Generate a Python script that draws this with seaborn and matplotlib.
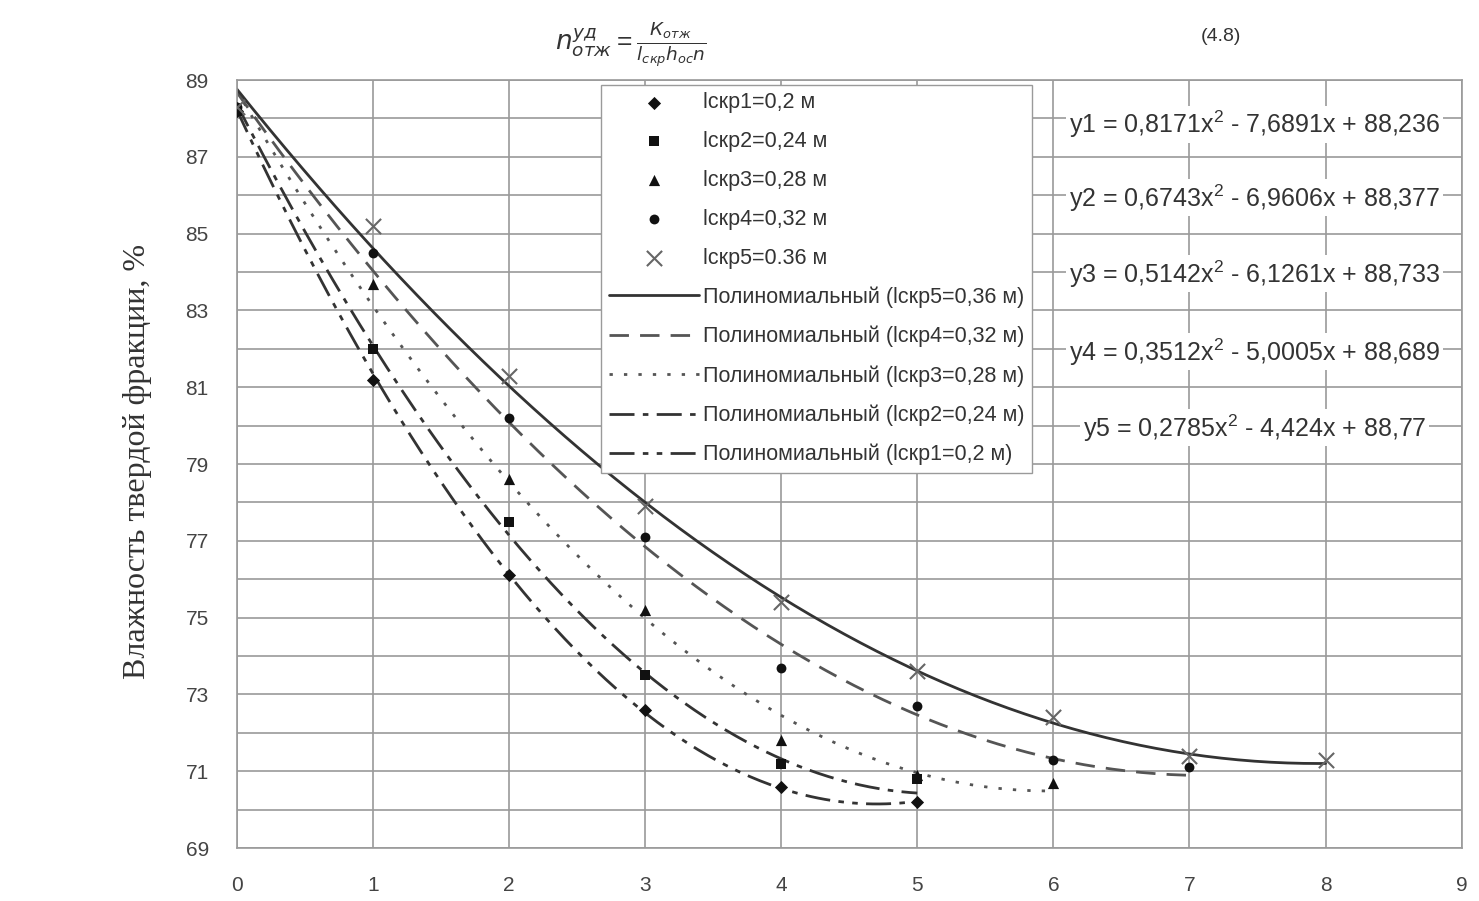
import numpy as np
import pandas as pd
import seaborn as sns
import matplotlib.pyplot as plt

# measured points (x = time, y = moisture of solid fraction, %)
x1 = [0, 1, 2, 3, 4, 5]
y1 = [88.2, 81.2, 76.1, 72.6, 70.6, 70.2]
x2 = [0, 1, 2, 3, 4, 5]
y2 = [88.2, 82.0, 77.5, 73.5, 71.2, 70.8]
x3 = [0, 1, 2, 3, 4, 5, 6]
y3 = [88.3, 83.7, 78.6, 75.2, 71.8, 70.9, 70.7]
x4 = [0, 1, 2, 3, 4, 5, 6, 7]
y4 = [88.3, 84.5, 80.2, 77.1, 73.7, 72.7, 71.3, 71.1]
x5 = [0, 1, 2, 3, 4, 5, 6, 7, 8]
y5 = [88.3, 85.2, 81.3, 77.9, 75.4, 73.6, 72.4, 71.4, 71.3]

labels = ["lскр1=0,2 м", "lскр2=0,24 м", "lскр3=0,28 м", "lскр4=0,32 м", "lскр5=0.36 м"]
trend_labels = ["Полиномиальный (lскр1=0,2 м)", "Полиномиальный (lскр2=0,24 м)",
                "Полиномиальный (lскр3=0,28 м)", "Полиномиальный (lскр4=0,32 м)",
                "Полиномиальный (lскр5=0,36 м)"]

# trendline coefficients as printed on the chart
coef1 = [0.8171, -7.6891, 88.236]
coef2 = [0.6743, -6.9606, 88.377]
coef3 = [0.5142, -6.1261, 88.733]
coef4 = [0.3512, -5.0005, 88.689]
coef5 = [0.2785, -4.424, 88.77]
eq_texts = ["y1 = 0,8171x$^2$ - 7,6891x + 88,236",
            "y2 = 0,6743x$^2$ - 6,9606x + 88,377",
            "y3 = 0,5142x$^2$ - 6,1261x + 88,733",
            "y4 = 0,3512x$^2$ - 5,0005x + 88,689",
            "y5 = 0,2785x$^2$ - 4,424x + 88,77"]

sns.set_style("white")
plt.rcParams['font.family'] = ['Liberation Sans', 'DejaVu Sans']
plt.rcParams['mathtext.fontset'] = 'custom'
plt.rcParams['mathtext.rm'] = 'Liberation Sans'

fig = plt.figure(figsize=(14.79, 9.01), dpi=100)
ax = fig.add_axes([0.160, 0.0588, 0.8283, 0.8524])

xs = [x1, x2, x3, x4, x5]
ys = [y1, y2, y3, y4, y5]
coefs = [coef1, coef2, coef3, coef4, coef5]
markers = ["D", "s", "^", "o", "x"]
msizes = [45, 55, 65, 50, 120]
mcolors = ["#111111", "#111111", "#111111", "#111111", "#666666"]
styles = [(0, (9, 3, 2, 3, 2, 3)), (0, (9, 3, 2, 3)), (0, (1.2, 4)), (0, (7, 4)), "-"]
lcolors = ["#333333", "#333333", "#555555", "#555555", "#333333"]

for i in range(5):
    xx = np.linspace(xs[i][0], xs[i][-1], 200)
    df = pd.DataFrame({"x": xx, "y": np.polyval(coefs[i], xx)})
    sns.lineplot(data=df, x="x", y="y", ax=ax, color=lcolors[i], linestyle=styles[i],
                 linewidth=2, label=trend_labels[i])

for i in range(5):
    df = pd.DataFrame({"x": xs[i], "y": ys[i]})
    sns.scatterplot(data=df, x="x", y="y", ax=ax, marker=markers[i], s=msizes[i],
                    color=mcolors[i], linewidth=1.5 if markers[i] == "x" else 0,
                    label=labels[i], zorder=5)

ax.set_xlim(0, 9)
ax.set_ylim(69, 89)
ax.set_xticks(range(0, 10))
ax.set_yticks(range(69, 90, 2))
ax.set_yticks(range(69, 90, 1), minor=True)
ax.grid(True, which="both", color="#9a9a9a", linewidth=1.2)
for s in ax.spines.values():
    s.set_color("#9a9a9a")
    s.set_linewidth(1.2)
ax.tick_params(axis="y", labelsize=15, labelcolor="#444444", length=0, pad=20)
ax.tick_params(axis="x", labelsize=15, labelcolor="#444444", length=0, pad=20)
ax.set_xlabel("")
ax.set_ylabel("Влажность твердой фракции, %", family=["Liberation Serif", "DejaVu Serif"],
              fontsize=23, color="#333333")
ax.yaxis.set_label_coords(-0.069, 0.503)

eq_y = [87.85, 85.93, 83.95, 81.92, 79.94]
for t, yy in zip(eq_texts, eq_y):
    ax.text(7.48, yy, t, ha="center", va="center", fontsize=18, color="#333333",
            bbox=dict(facecolor="white", edgecolor="none", pad=2))

h, l = ax.get_legend_handles_labels()
order = [5, 6, 7, 8, 9, 4, 3, 2, 1, 0]
leg = ax.legend([h[k] for k in order], [l[k] for k in order], loc="upper left",
                bbox_to_anchor=(0.2975, 0.994), fontsize=15.5, labelspacing=0.83,
                handlelength=4.2, handletextpad=0.2, borderpad=0.35, borderaxespad=0,
                frameon=True, fancybox=False, framealpha=1, edgecolor="#9a9a9a")
for txt in leg.get_texts():
    txt.set_color("#333333")

# formula fragment above the chart
fig.text(0.375, 0.945, r"$n_{отж}^{уд} = \frac{К_{отж}}{l_{скр} h_{ос} n}$", fontsize=19,
         color="#333333", family=["DejaVu Serif"])
fig.text(0.812, 0.955, "(4.8)", fontsize=14, color="#333333")

plt.savefig("out.png", dpi=100)
